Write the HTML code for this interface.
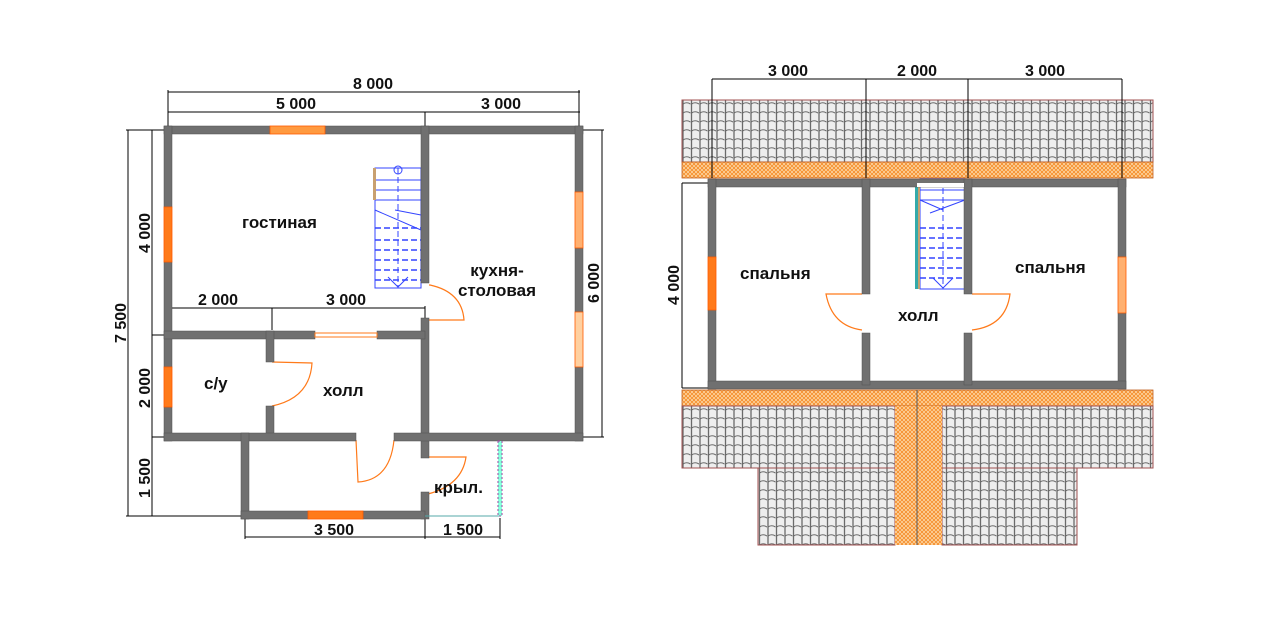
<!DOCTYPE html>
<html><head><meta charset="utf-8"><style>
html,body{margin:0;padding:0;background:#fff;}
svg{display:block;}
text{font-family:"Liberation Sans",Arial,sans-serif;font-weight:bold;fill:#111;}
</style></head><body>
<svg width="1280" height="640" viewBox="0 0 1280 640" xmlns="http://www.w3.org/2000/svg">
<defs>
<pattern id="tile" width="8.5" height="9" patternUnits="userSpaceOnUse" x="682" y="100">
<rect width="8.5" height="9" fill="#eeeeee"/>
<line x1="1" y1="0" x2="1" y2="9" stroke="#6a6a6a" stroke-width="1.3"/>
<path d="M1 4 Q4.5 1.5 8.5 4" fill="none" stroke="#6a6a6a" stroke-width="1.1"/>
</pattern>
<pattern id="orng" width="4" height="4" patternUnits="userSpaceOnUse">
<rect width="4" height="4" fill="#fdd9a8"/>
<path d="M0 2 L2 0 L4 2 L2 4Z" fill="none" stroke="#f59030" stroke-width="0.9"/>
</pattern>
</defs>

<!-- ============ LEFT PLAN ============ -->
<g stroke="#000" stroke-width="1" fill="none">
<line x1="168" y1="92" x2="580" y2="92"/>
<line x1="168" y1="112" x2="580" y2="112"/>
<line x1="168" y1="90" x2="168" y2="130"/>
<line x1="579" y1="90" x2="579" y2="130"/>
<line x1="425" y1="112" x2="425" y2="127"/>
<line x1="128" y1="130" x2="128" y2="516"/>
<line x1="152" y1="130" x2="152" y2="516"/>
<line x1="126" y1="130" x2="165" y2="130"/>
<line x1="126" y1="516" x2="245" y2="516"/>
<line x1="152" y1="335" x2="165" y2="335"/>
<line x1="152" y1="437" x2="165" y2="437"/>
<line x1="602" y1="130" x2="602" y2="437"/>
<line x1="583" y1="130" x2="604" y2="130"/>
<line x1="583" y1="437" x2="604" y2="437"/>
<line x1="168" y1="308" x2="425" y2="308"/>
<line x1="168" y1="308" x2="168" y2="330"/>
<line x1="272" y1="308" x2="272" y2="330"/>
<line x1="425" y1="306" x2="425" y2="318"/>
<line x1="245" y1="537" x2="500" y2="537"/>
<line x1="245" y1="518" x2="245" y2="539"/>
<line x1="425" y1="518" x2="425" y2="539"/>
<line x1="500" y1="518" x2="500" y2="539"/>
</g>
<g font-size="16">
<text x="373" y="89" text-anchor="middle">8 000</text>
<text x="296" y="109" text-anchor="middle">5 000</text>
<text x="501" y="109" text-anchor="middle">3 000</text>
<text x="218" y="305" text-anchor="middle">2 000</text>
<text x="346" y="305" text-anchor="middle">3 000</text>
<text x="334" y="535" text-anchor="middle">3 500</text>
<text x="463" y="535" text-anchor="middle">1 500</text>
<text transform="translate(126,323) rotate(-90)" text-anchor="middle">7 500</text>
<text transform="translate(150,233) rotate(-90)" text-anchor="middle">4 000</text>
<text transform="translate(150,388) rotate(-90)" text-anchor="middle">2 000</text>
<text transform="translate(150,478) rotate(-90)" text-anchor="middle">1 500</text>
<text transform="translate(599,283) rotate(-90)" text-anchor="middle">6 000</text>
</g>

<!-- stairs left -->
<g stroke="#3344ff" stroke-width="1" fill="none">
<rect x="375" y="168" width="46" height="120"/>
<line x1="398" y1="168" x2="398" y2="288" stroke-dasharray="6,3"/>
<line x1="375" y1="180" x2="421" y2="180"/><line x1="375" y1="190" x2="421" y2="190"/><line x1="375" y1="200" x2="421" y2="200"/>
<line x1="375" y1="210" x2="421" y2="230"/><line x1="395" y1="210" x2="421" y2="215"/>
<g stroke-dasharray="6,3" stroke-width="1.5"><line x1="375" y1="228" x2="421" y2="228"/><line x1="375" y1="240" x2="421" y2="240"/><line x1="375" y1="250" x2="421" y2="250"/><line x1="375" y1="260" x2="421" y2="260"/><line x1="375" y1="270" x2="421" y2="270"/><line x1="375" y1="280" x2="421" y2="280"/></g>
<circle cx="398" cy="170" r="4"/>
<path d="M388 277 L398 287 L408 277"/>
</g>
<rect x="373" y="168" width="3" height="32" fill="#c8a070"/>

<!-- doors left -->
<g stroke="#ff7a1a" stroke-width="1.2" fill="none">
<path d="M429 285 L430 285 Q462 292 464 320 L429 320"/>
<path d="M272 362 L312 363 Q310 398 272 406"/>
<path d="M356 440 L358 482 Q390 480 394 440"/>
<path d="M428 457 L466 457 Q462 485 428 494"/>
</g>

<!-- walls left -->
<g fill="#707070" stroke="#505050" stroke-width="0.5">
<rect x="164" y="126" width="106" height="8"/>
<rect x="325" y="126" width="258" height="8"/>
<rect x="164" y="126" width="8" height="81"/>
<rect x="164" y="262" width="8" height="105"/>
<rect x="164" y="407" width="8" height="34"/>
<rect x="575" y="126" width="8" height="66"/>
<rect x="575" y="248" width="8" height="64"/>
<rect x="575" y="367" width="8" height="74"/>
<rect x="421" y="126" width="8" height="157"/>
<rect x="421" y="318" width="8" height="140"/>
<rect x="421" y="492" width="8" height="27"/>
<rect x="164" y="331" width="151" height="8"/>
<rect x="377" y="331" width="48" height="8"/>
<rect x="266" y="331" width="8" height="31"/>
<rect x="266" y="406" width="8" height="32"/>
<rect x="164" y="433" width="192" height="8"/>
<rect x="394" y="433" width="189" height="8"/>
<rect x="241" y="433" width="8" height="86"/>
<rect x="241" y="511" width="67" height="8"/>
<rect x="363" y="511" width="62" height="8"/>
</g>
<!-- windows left -->
<g fill="#ff7a1a" stroke="#ff5a00" stroke-width="0.8">
<rect x="270" y="126" width="55" height="8" fill="#ff9a40"/>
<rect x="164" y="207" width="8" height="55"/>
<rect x="164" y="367" width="8" height="40"/>
<rect x="575" y="192" width="8" height="56" fill="#ffb070"/>
<rect x="575" y="312" width="8" height="55" fill="#ffd0a0"/>
<rect x="308" y="511" width="55" height="8"/>
</g>
<rect x="315" y="333" width="62" height="4" fill="#fff" stroke="#ff7a1a" stroke-width="1"/>
<line x1="425" y1="516" x2="500" y2="516" stroke="#5aa" stroke-width="1"/>
<rect x="498" y="441" width="4" height="75" fill="#8fd" stroke="#a040a0" stroke-width="1" stroke-dasharray="2,2"/>

<g font-size="17">
<text x="242" y="228">гостиная</text>
<text x="497" y="276" text-anchor="middle">кухня-</text>
<text x="497" y="284" text-anchor="middle" dy="12">столовая</text>
<text x="204" y="389">с/у</text>
<text x="323" y="396">холл</text>
<text x="434" y="493">крыл.</text>
</g>

<!-- ============ RIGHT PLAN ============ -->
<rect x="682" y="100" width="471" height="62" fill="url(#tile)" stroke="#a05050" stroke-width="1"/>
<rect x="682" y="162" width="471" height="16" fill="url(#orng)" stroke="#c06020" stroke-width="0.8"/>
<rect x="682" y="390" width="471" height="16" fill="url(#orng)" stroke="#c06020" stroke-width="0.8"/>
<rect x="682" y="406" width="213" height="62" fill="url(#tile)" stroke="#a05050" stroke-width="1"/>
<rect x="942" y="406" width="211" height="62" fill="url(#tile)" stroke="#a05050" stroke-width="1"/>
<rect x="758" y="468" width="137" height="77" fill="url(#tile)" stroke="#a05050" stroke-width="1"/>
<rect x="942" y="468" width="135" height="77" fill="url(#tile)" stroke="#a05050" stroke-width="1"/>
<rect x="895" y="406" width="47" height="139" fill="url(#orng)"/>
<line x1="917" y1="390" x2="917" y2="545" stroke="#555" stroke-width="1"/>

<g stroke="#000" stroke-width="1" fill="none">
<line x1="712" y1="79" x2="1122" y2="79"/>
<line x1="712" y1="79" x2="712" y2="178"/>
<line x1="866" y1="79" x2="866" y2="178"/>
<line x1="968" y1="79" x2="968" y2="178"/>
<line x1="1122" y1="79" x2="1122" y2="178"/>
<line x1="682" y1="183" x2="682" y2="388"/>
<line x1="682" y1="183" x2="708" y2="183"/>
<line x1="682" y1="388" x2="708" y2="388"/>
</g>
<g font-size="16">
<text x="788" y="76" text-anchor="middle">3 000</text>
<text x="917" y="76" text-anchor="middle">2 000</text>
<text x="1045" y="76" text-anchor="middle">3 000</text>
<text transform="translate(679,285) rotate(-90)" text-anchor="middle">4 000</text>
</g>

<!-- stairs right -->
<g stroke="#3344ff" stroke-width="1" fill="none">
<rect x="920" y="179" width="45" height="110"/>
<line x1="943" y1="179" x2="943" y2="289" stroke-dasharray="6,3"/>
<line x1="920" y1="190" x2="965" y2="190"/><line x1="920" y1="200" x2="965" y2="200"/>
<line x1="920" y1="200" x2="943" y2="210"/><line x1="930" y1="213" x2="965" y2="200"/>
<g stroke-dasharray="6,3" stroke-width="1.5"><line x1="920" y1="228" x2="965" y2="228"/><line x1="920" y1="238" x2="965" y2="238"/><line x1="920" y1="248" x2="965" y2="248"/><line x1="920" y1="258" x2="965" y2="258"/><line x1="920" y1="268" x2="965" y2="268"/><line x1="920" y1="278" x2="965" y2="278"/></g>
<path d="M933 278 L943 288 L953 278"/>
</g>
<rect x="915" y="186" width="3" height="103" fill="#3aa" />
<rect x="918" y="179" width="2" height="110" fill="#c8a070"/>

<!-- doors right -->
<g stroke="#ff7a1a" stroke-width="1.2" fill="none">
<path d="M862 294 L826 294 Q832 326 862 330"/>
<path d="M972 294 L1010 294 Q1006 326 972 330"/>
</g>

<!-- walls right -->
<g fill="#707070" stroke="#505050" stroke-width="0.5">
<rect x="708" y="179" width="418" height="8"/>
<rect x="708" y="179" width="8" height="78"/>
<rect x="708" y="310" width="8" height="79"/>
<rect x="1118" y="179" width="8" height="78"/>
<rect x="1118" y="313" width="8" height="76"/>
<rect x="708" y="381" width="418" height="8"/>
<rect x="862" y="179" width="8" height="115"/>
<rect x="862" y="333" width="8" height="52"/>
<rect x="964" y="179" width="8" height="115"/>
<rect x="964" y="333" width="8" height="52"/>
</g>
<rect x="917" y="183" width="47" height="4" fill="#fff"/>
<g fill="#ff7a1a" stroke="#ff5a00" stroke-width="0.8">
<rect x="708" y="257" width="8" height="53"/>
<rect x="1118" y="257" width="8" height="56" fill="#ffb070"/>
</g>

<g font-size="17">
<text x="740" y="279">спальня</text>
<text x="1015" y="273">спальня</text>
<text x="898" y="321">холл</text>
</g>
</svg>
</body></html>
